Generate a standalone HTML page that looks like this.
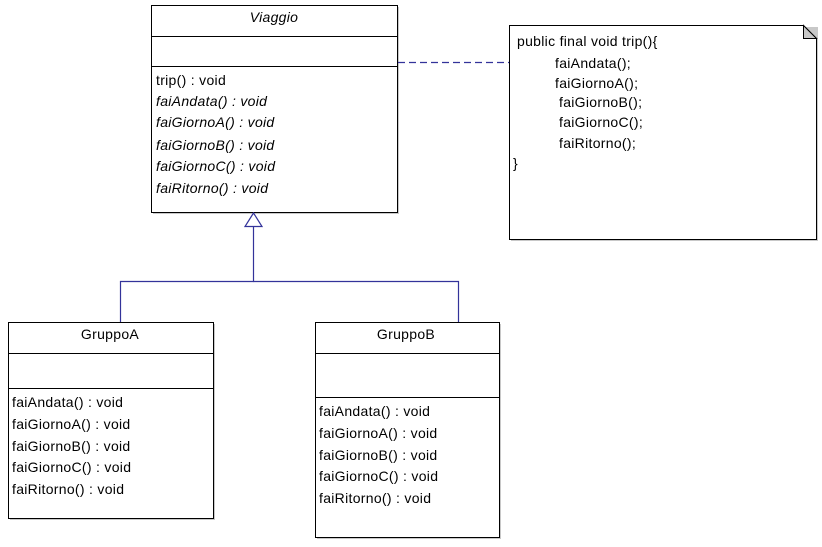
<!DOCTYPE html>
<html><head><meta charset="utf-8"><style>
html,body{margin:0;padding:0;background:#fff;width:822px;height:547px;overflow:hidden}
text{font-family:"Liberation Sans",sans-serif;font-size:14px;letter-spacing:0.3px;fill:#000}
.i{font-style:italic}
</style></head><body>
<svg width="822" height="547" viewBox="0 0 822 547" xmlns="http://www.w3.org/2000/svg">
<g fill="#c8c8c8">
<rect x="153" y="7" width="246" height="207"/>
<rect x="10" y="324" width="205" height="196"/>
<rect x="317" y="324" width="184" height="215"/>
<rect x="511" y="27" width="307" height="214"/>
</g>
<!-- Viaggio -->
<rect x="151.5" y="5.5" width="246" height="207" fill="#fff" stroke="#000"/>
<line x1="151" y1="36.5" x2="398" y2="36.5" stroke="#000"/>
<line x1="151" y1="66.5" x2="398" y2="66.5" stroke="#000"/>
<text x="274" y="22" text-anchor="middle" class="i">Viaggio</text>
<text x="156" y="85">trip() : void</text>
<text x="156" y="106" class="i">faiAndata() : void</text>
<text x="156" y="127" class="i">faiGiornoA() : void</text>
<text x="156" y="150" class="i">faiGiornoB() : void</text>
<text x="156" y="171" class="i">faiGiornoC() : void</text>
<text x="156" y="193" class="i">faiRitorno() : void</text>
<!-- inheritance -->
<g stroke="#33339a" fill="none" stroke-width="1.2">
<polygon points="253.5,213 245,226.5 262,226.5" fill="#fff"/>
<polyline points="253.5,226.5 253.5,281.5 120.5,281.5 120.5,322"/>
<polyline points="253.5,281.5 458.5,281.5 458.5,322"/>
<line x1="398" y1="62.5" x2="509" y2="62.5" stroke-dasharray="7,4"/>
</g>
<!-- GruppoA -->
<rect x="8.5" y="322.5" width="205" height="196" fill="#fff" stroke="#000"/>
<line x1="8" y1="353.5" x2="214" y2="353.5" stroke="#000"/>
<line x1="8" y1="388.5" x2="214" y2="388.5" stroke="#000"/>
<text x="110" y="339" text-anchor="middle">GruppoA</text>
<text x="12" y="407">faiAndata() : void</text>
<text x="12" y="429">faiGiornoA() : void</text>
<text x="12" y="451">faiGiornoB() : void</text>
<text x="12" y="472">faiGiornoC() : void</text>
<text x="12" y="494">faiRitorno() : void</text>
<!-- GruppoB -->
<rect x="315.5" y="322.5" width="184" height="215" fill="#fff" stroke="#000"/>
<line x1="315" y1="353.5" x2="500" y2="353.5" stroke="#000"/>
<line x1="315" y1="397.5" x2="500" y2="397.5" stroke="#000"/>
<text x="406" y="339" text-anchor="middle">GruppoB</text>
<text x="319" y="416">faiAndata() : void</text>
<text x="319" y="438">faiGiornoA() : void</text>
<text x="319" y="460">faiGiornoB() : void</text>
<text x="319" y="481">faiGiornoC() : void</text>
<text x="319" y="503">faiRitorno() : void</text>
<!-- Note -->
<path d="M509.5,25.5 H803.5 L816.5,38.5 V239.5 H509.5 Z" fill="#fff" stroke="#000"/>
<path d="M803.5,25.5 V38.5 H816.5 Z" fill="#c8c8c8" stroke="#000"/>
<text x="517" y="46">public final void trip(){</text>
<text x="555" y="68">faiAndata();</text>
<text x="555" y="88">faiGiornoA();</text>
<text x="559" y="107">faiGiornoB();</text>
<text x="559" y="127">faiGiornoC();</text>
<text x="559" y="148">faiRitorno();</text>
<text x="513" y="168">}</text>
</svg>
</body></html>
